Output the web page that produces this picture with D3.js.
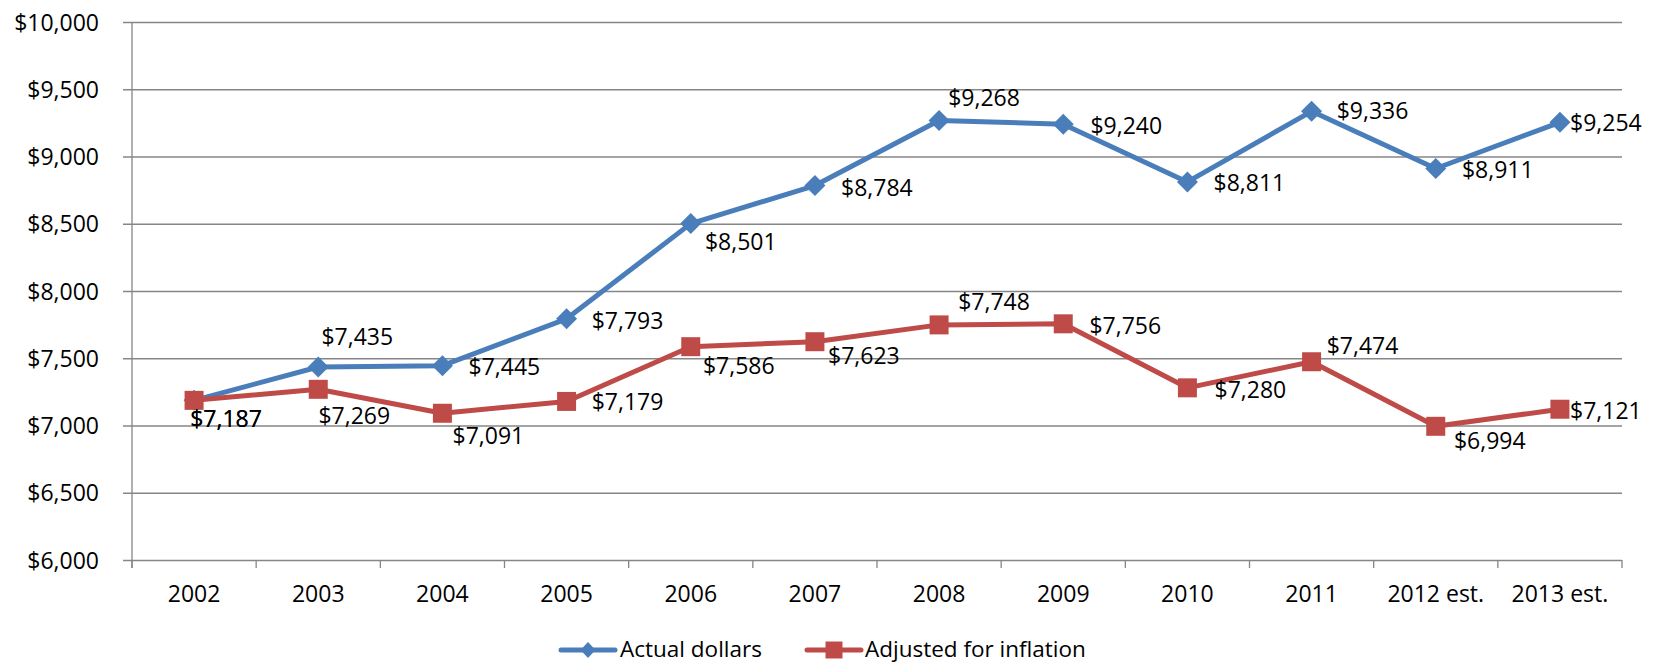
<!DOCTYPE html>
<html>
<head>
<meta charset="utf-8">
<script src="https://cdn.jsdelivr.net/npm/d3@7"></script>
<style>
  html, body { margin: 0; padding: 0; background: #fff; }
  svg { display: block; font-family: "Open Sans", "Noto Sans", sans-serif; }
</style>
</head>
<body>
<svg id="chart" width="1656" height="663"></svg>
<script>
// Categories and series values
const years = ["2002", "2003", "2004", "2005", "2006", "2007", "2008", "2009", "2010", "2011", "2012 est.", "2013 est."];
const actualDollars = [7187, 7435, 7445, 7793, 8501, 8784, 9268, 9240, 8811, 9336, 8911, 9254];
const adjustedForInflation = [7187, 7269, 7091, 7179, 7586, 7623, 7748, 7756, 7280, 7474, 6994, 7121];
const yTicks = [6000, 6500, 7000, 7500, 8000, 8500, 9000, 9500, 10000];
const seriesNames = ["Actual dollars", "Adjusted for inflation"];

// Label placement (label centre relative to its marker)
const actualLabelShift = [[32, 19], [39, -30], [62, 1], [61, 2], [50, 18], [62, 2], [45, -22], [63, 2], [62, 1], [61, 0], [62, 2], [46, 1]];
const adjustedLabelShift = [[32, 19], [36, 27], [46, 23], [61, 1], [48, 19], [49, 14], [55, -23], [62, 2], [63, 2], [51, -16], [54, 15], [46, 2]];

const BLUE = "#4a7ebb";
const RED = "#be4b48";
const GRID = "#868686";

const svg = d3.select("#chart");
const plotLeft = 132, plotRight = 1622, plotTop = 22, plotBottom = 560;

const x = d3.scaleBand().domain(years).range([plotLeft, plotRight]).padding(0);
const y = d3.scaleLinear().domain([6000, 10000]).range([plotBottom, plotTop]);
const cx = d => x(d) + x.bandwidth() / 2;
const fmt = v => "$" + d3.format(",")(v);

// Horizontal gridlines + y tick labels
const yAxis = d3.axisLeft(y)
  .tickValues(yTicks)
  .tickSize(-(plotRight - 123))
  .tickPadding(24)
  .tickFormat(fmt);
const gy = svg.append("g").attr("transform", "translate(123,0)").call(yAxis);
gy.select(".domain").remove();
gy.selectAll(".tick line").attr("stroke", GRID).attr("stroke-width", 1.3);
gy.selectAll(".tick text")
  .attr("font-size", 23).attr("fill", "#000")
  .attr("dy", null).attr("y", 8)
  .attr("font-family", "'Open Sans', sans-serif");

// Vertical axis line
svg.append("line")
  .attr("x1", plotLeft).attr("x2", plotLeft).attr("y1", plotTop).attr("y2", plotBottom + 8)
  .attr("stroke", GRID).attr("stroke-width", 1.3);

// Category boundary ticks on the x axis
const boundaries = years.map(d => x(d)).concat([plotRight]);
svg.append("g").selectAll("line").data(boundaries).join("line")
  .attr("x1", d => d).attr("x2", d => d)
  .attr("y1", plotBottom).attr("y2", plotBottom + 8)
  .attr("stroke", GRID).attr("stroke-width", 1.3);

// X category labels
const xAxis = d3.axisBottom(x).tickSize(0).tickPadding(0);
const gx = svg.append("g").attr("transform", `translate(0,${plotBottom})`).call(xAxis);
gx.select(".domain").remove();
gx.selectAll(".tick text")
  .attr("font-size", 23).attr("fill", "#000")
  .attr("dy", null).attr("y", 42)
  .attr("font-family", "'Open Sans', sans-serif");

const line = d3.line().x((d, i) => cx(years[i])).y(d => y(d));

function drawSeries(values, color, marker) {
  const g = svg.append("g");
  g.append("path").datum(values)
    .attr("d", line)
    .attr("fill", "none").attr("stroke", color)
    .attr("stroke-width", 5).attr("stroke-linejoin", "round");
  const pts = g.selectAll(".pt").data(values).join("path")
    .attr("class", "pt")
    .attr("fill", color)
    .attr("transform", (d, i) => `translate(${cx(years[i])},${y(d)})`);
  if (marker === "diamond") {
    pts.attr("d", "M0,-10.5L10.5,0L0,10.5L-10.5,0Z");
  } else {
    pts.attr("d", "M-9.5,-9.5H9.5V9.5H-9.5Z");
  }
  return g;
}

function drawLabels(values, shifts) {
  svg.append("g").selectAll("text").data(values).join("text")
    .attr("x", (d, i) => cx(years[i]) + shifts[i][0])
    .attr("y", (d, i) => y(d) + shifts[i][1] + 8)
    .attr("text-anchor", "middle")
    .attr("font-size", 23)
    .attr("fill", "#000")
    .text(fmt);
}

drawSeries(actualDollars, BLUE, "diamond");
drawSeries(adjustedForInflation, RED, "square");
drawLabels(actualDollars, actualLabelShift);
drawLabels(adjustedForInflation, adjustedLabelShift);

// Legend
const legendY = 650;
const legendItems = [
  { name: seriesNames[0], color: BLUE, marker: "diamond", x0: 561, x1: 615, tx: 620 },
  { name: seriesNames[1], color: RED, marker: "square", x0: 807, x1: 861, tx: 865 }
];
const lg = svg.append("g");
legendItems.forEach(it => {
  lg.append("line")
    .attr("x1", it.x0).attr("x2", it.x1).attr("y1", legendY).attr("y2", legendY)
    .attr("stroke", it.color).attr("stroke-width", 5).attr("stroke-linecap", "round");
  const mx = (it.x0 + it.x1) / 2;
  lg.append("path")
    .attr("fill", it.color)
    .attr("transform", `translate(${mx},${legendY})`)
    .attr("d", it.marker === "diamond" ? "M0,-8L7.5,0L0,8L-7.5,0Z" : "M-8.5,-8.5H8.5V8.5H-8.5Z");
  lg.append("text")
    .attr("x", it.tx)
    .attr("y", legendY + 7)
    .attr("font-size", 22.5)
    .attr("fill", "#000")
    .text(it.name);
});
</script>
</body>
</html>
